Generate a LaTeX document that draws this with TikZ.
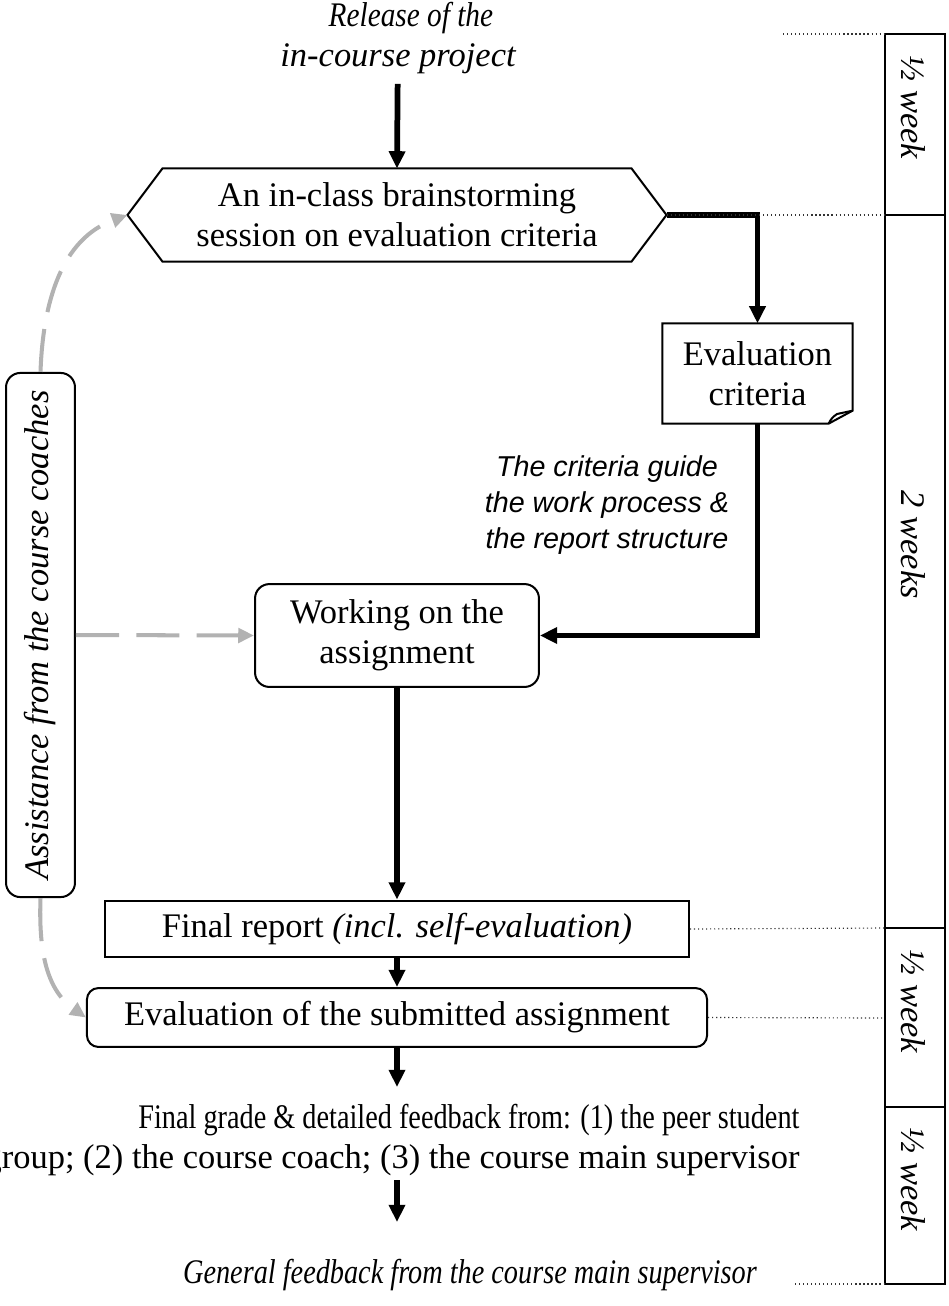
\documentclass[tikz,border=0pt]{standalone}
\usepackage{fontspec}
\setmainfont{Liberation Serif}
\newfontfamily\notefont{Liberation Sans}
\usepackage{graphicx}
\usepackage{tikz}
\usetikzlibrary{arrows.meta,positioning,calc}
\newcommand{\mainsize}{\fontsize{12}{13.9}\selectfont}
\newcommand{\notesize}{\fontsize{10}{12.6}\selectfont}
\newcommand{\squeeze}[1]{\scalebox{0.82}[1]{#1}}

\begin{document}
\begin{tikzpicture}[
  x=0.348pt, y=-0.348pt,
  flow/.style={-{Triangle[length=6pt,width=5.5pt]}, line width=2pt},
  assistarrow/.style={-{Triangle[length=5.5pt,width=5pt]}, line width=1.4pt,
                      black!30, dash pattern=on 15pt off 6pt},
  edge/.style={line width=0.7pt},
  guide/.style={densely dotted, line width=0.4pt, black!80},
  plainbox/.style={draw, line width=0.7pt, inner sep=0pt},
  roundbox/.style={plainbox, rounded corners=5pt},
  every node/.style={font=\mainsize, align=center}]

\useasboundingbox (0,0) rectangle (948,1306);

% ---- the main flow ------------------------------------------------------
\node[font=\mainsize\itshape] (release) at (398,38)
     {\hspace*{9pt}\scalebox{0.85}[1]{Release of the}\\in-course project};
\node[inner sep=0pt, minimum width=187.2pt, minimum height=32pt] (brain) at (397,215)
     {An in-class brainstorming\\session on evaluation criteria};
\draw[edge] (brain.west) -- ($(brain.north west)+(35,0)$) -- ($(brain.north east)+(-35,0)$)
            -- (brain.east) -- ($(brain.south east)+(-35,0)$) -- ($(brain.south west)+(35,0)$) -- cycle;

\node[inner sep=0pt, minimum width=65.8pt, minimum height=34.5pt] (crit) at (757.5,373.5)
     {Evaluation\\criteria};
\draw[edge] ($(crit.south east)+(0,-13)$) -- (crit.north east) -- (crit.north west)
            -- (crit.south west) -- ($(crit.south east)+(-24,0)$) -- cycle;
\draw[edge] ($(crit.south east)+(-24,0)$) to[bend left=15] (837,414) -- ($(crit.south east)+(0,-13)$);

\node[roundbox, minimum width=98.8pt, minimum height=35.8pt] (work) at (397,635.5)
     {Working on the\\assignment};
\node[plainbox, minimum width=203.2pt, minimum height=19.8pt] (report) at (397,929)
     {Final report \textit{(incl. self-evaluation)}};
\node[roundbox, rounded corners=4pt, minimum width=215.8pt, minimum height=20.5pt] (assess)
     at (397,1017.5) {Evaluation of the submitted assignment};

\node[anchor=east, inner sep=0pt, align=right] (grade) at (800,1140)
     {\squeeze{Final grade \& detailed feedback from: (1) the peer student}\\
      group; (2) the course coach; (3) the course main supervisor};
\coordinate (gradeIn)   at (397,1087);
\coordinate (gradeOut)  at (397,1180);
\coordinate (generalIn) at (397,1222);
\node[font=\mainsize\itshape] (general) at (470,1275)
     {\squeeze{General feedback from the course main supervisor}};

\node[font=\notefont\notesize\itshape] (note) at (607,505)
     {The criteria guide\\the work process \&\\the report structure};

\draw[flow] (release) -- (brain.north);
\draw[flow] (brain.east) -| (crit.north);
\draw[flow] (crit.south) |- (work.east);
\draw[flow] (work) -- (report);
\draw[flow] (report) -- (assess);
\draw[flow] (assess) -- (gradeIn);
\draw[flow] (gradeOut) -- (generalIn);

% ---- assistance from the coaches ----------------------------------------
\node[roundbox, rotate=90, font=\mainsize\itshape, minimum width=182.4pt, minimum height=24pt]
     (assist) at (40.5,635) {Assistance from the course coaches};
\draw[assistarrow] (assist.east) to[out=88, in=200] (brain.west);
\draw[assistarrow] (assist.south) -- (work.west);
\draw[assistarrow] (assist.west) to[out=-92, in=145] (assess.west);

% ---- the time line ------------------------------------------------------
\foreach \ya/\yb/\yt/\lab in {34/215/55/½ week, 215/928/490/2 weeks,
                             928/1107/949/½ week, 1107/1284/1127/½ week}{
  \draw[line width=0.5pt] (885,\ya) rectangle (945,\yb);
  \node[rotate=-90, anchor=west, inner sep=0pt, font=\mainsize\itshape] at (913,\yt) {\lab};
}
\draw[guide] (783,34) -- (885,34);
\draw[guide] (brain.east) -- (885,215);
\draw[guide] (report.east) -- (885,928);
\draw[guide] (assess.east) -- (885,1018);
\draw[guide] (795,1284) -- (885,1284);

\end{tikzpicture}
\end{document}
